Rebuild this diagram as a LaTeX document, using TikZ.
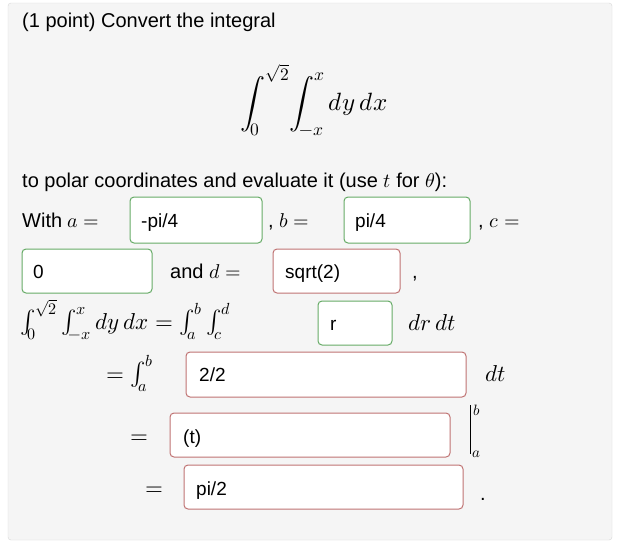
\documentclass[tikz,border=0pt]{standalone}
\usepackage{fontspec}
\usepackage{unicode-math}
\setmainfont{Liberation Sans}
\setmathfont{Latin Modern Math}
\begin{document}
\begin{tikzpicture}[x=1pt,y=-1pt,
  txt/.style={anchor=base west,inner sep=0pt,font=\fontsize{20}{22}\selectfont},
  mth/.style={anchor=base west,inner sep=0pt,font=\fontsize{23}{24}\selectfont},
  okbox/.style={draw=green!45!black!60,line width=1pt,rounded corners=4pt,fill=white},
  badbox/.style={draw=red!55!black!55,line width=1pt,rounded corners=4pt,fill=white},
  boxtxt/.style={anchor=base west,inner sep=0pt,font=\fontsize{19}{22}\selectfont}]
\useasboundingbox (0,0) rectangle (620,547);
\fill[white] (0,0) rectangle (620,547);
\draw[draw=black!15,fill=black!4,rounded corners=3pt] (8,3) rectangle (612,540);
\node[txt] (t1) at (22,27) {(1 point) Convert the integral};
\node[anchor=center,inner sep=0pt,font=\fontsize{25}{27}\selectfont] (int) at (314,100)
  {$\displaystyle\int_0^{\sqrt2}\!\int_{-x}^{x} dy\,dx$};
\node[txt] (t2) at (22,187) {to polar coordinates and evaluate it (use $t$ for $\theta$):};
% row 1
\node[txt] (w) at (22,227) {With $a=$};
\draw[okbox] (130,197) rectangle (262,243); \node[boxtxt] (a) at (141,227) {-pi/4};
\node[txt] (bb) at (268,227) {, $b=$};
\draw[okbox] (344,197) rectangle (470,243); \node[boxtxt] (b) at (355,227) {pi/4};
\node[txt] (cc) at (478,227) {, $c=$};
% row 2
\draw[okbox] (22,249) rectangle (152,293); \node[boxtxt] (c) at (33,278) {0};
\node[txt] (dd) at (170,278) {and $d=$};
\draw[badbox] (273,249) rectangle (400,293); \node[boxtxt] (d) at (285,278) {sqrt(2)};
\node[txt] (cm) at (412,278) {,};
% row 3
\node[mth] (l3) at (20,329) {$\int_0^{\sqrt2}\int_{-x}^{x} dy\,dx=\int_a^b\int_c^d$};
\draw[okbox] (318,301) rectangle (392,345); \node[boxtxt] (r) at (330,330) {r};
\node[mth] (drdt) at (408,330) {$dr\,dt$};
% row 4
\node[mth] (l4) at (106,381) {$=\int_a^b$};
\draw[badbox] (186,352) rectangle (466,397); \node[boxtxt] (v4) at (199,381) {2/2};
\node[mth] (dt) at (485,381) {$dt$};
% row 5
\node[mth] (l5) at (130,443) {$=$};
\draw[badbox] (170,413) rectangle (450,457); \node[boxtxt] (v5) at (183,443) {(t)};
\draw[line width=0.9pt] (470,405) -- (470,454);
\node[anchor=base west,inner sep=0pt,font=\fontsize{15}{16}\selectfont] (ub) at (473,415) {$b$};
\node[anchor=base west,inner sep=0pt,font=\fontsize{15}{16}\selectfont] (lb) at (472,457) {$a$};
% row 6
\node[mth] (l6) at (145,495) {$=$};
\draw[badbox] (184,465) rectangle (463,509); \node[boxtxt] (v6) at (196,495) {pi/2};
\node[txt] (dot) at (480,500) {.};
\end{tikzpicture}
\end{document}
